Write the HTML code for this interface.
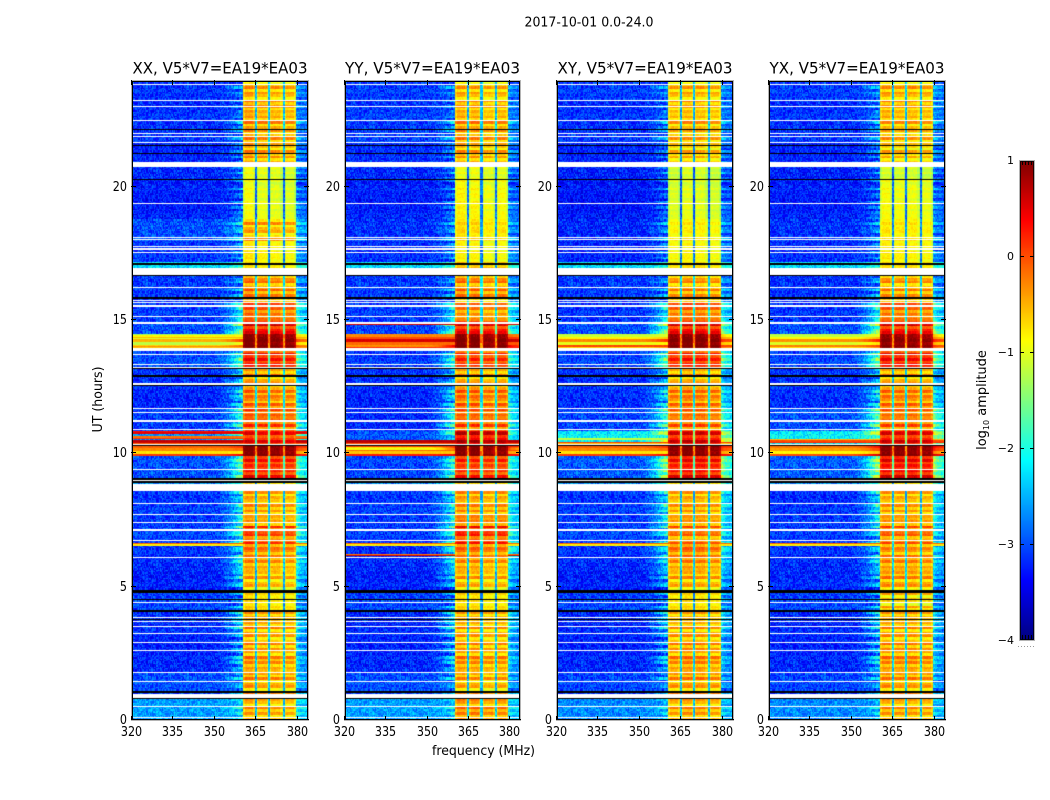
<!DOCTYPE html>
<html lang="en">
<head>
<meta charset="utf-8">
<title>2017-10-01 0.0-24.0</title>
<style>
html,body{margin:0;padding:0;background:#fff}
#figure{position:relative;width:1050px;height:800px;overflow:hidden;background:#fff;font-family:"DejaVu Sans","Liberation Sans",sans-serif}
canvas{position:absolute;display:block}
svg{position:absolute;left:0;top:0}
text{fill:#000;font-family:"DejaVu Sans","Liberation Sans",sans-serif}
</style>
</head>
<body>
<div id="figure">
<svg id="overlay" width="1050" height="800" viewBox="0 0 1050 800">
  <text x="589" y="26.5" font-size="13" text-anchor="middle" textLength="129" lengthAdjust="spacingAndGlyphs">2017-10-01 0.0-24.0</text>
  <text x="483.5" y="755" font-size="13" text-anchor="middle" textLength="103" lengthAdjust="spacingAndGlyphs">frequency (MHz)</text>
  <text transform="translate(102,399.5) rotate(-90)" font-size="13" text-anchor="middle" textLength="66" lengthAdjust="spacingAndGlyphs">UT (hours)</text>
  <text transform="translate(986,400) rotate(-90)" font-size="13" text-anchor="middle">log<tspan font-size="8" dy="3">10</tspan><tspan dy="-3"> amplitude</tspan></text>
</svg>
</div>
<script>
/* ---- axis data ---- */
const panelTitles = ["XX, V5*V7=EA19*EA03","YY, V5*V7=EA19*EA03","XY, V5*V7=EA19*EA03","YX, V5*V7=EA19*EA03"];
const freqTicks = [320,335,350,365,380];
const hourTicks = [0,5,10,15,20];
const colorTicks = [1,0,-1,-2,-3,-4];

/* ---- time segments (UT hours), shared by all four polarisations ---- */
const segmentEdges = [0,0.8,1.8,3.3,4.1,4.8,5.6,6.2,6.6,7.3,7.7,8.6,9.05,9.9,10.35,10.85,11.7,12.6,13.2,13.9,14.5,15.0,15.9,16.7,17.2,18.0,18.8,20.3,20.8,21.7,22.5,23.2,24];

/* log10 amplitude inside the 360-380 MHz band, per segment */
const xxBand = [-0.6,-0.55,-0.5,-0.55,-0.75,-0.65,-0.5,-0.3,-0.1,-0.5,-0.6,-0.8,0.1,0.95,0.25,-0.15,-0.35,-0.5,0.15,0.95,0.25,-0.25,-0.35,-0.8,-0.85,-0.6,-1.0,-1.0,-0.55,-0.5,-0.55,-0.55];
const yyBand = [-0.45,-0.6,-0.5,-0.6,-0.75,-0.65,-0.5,-0.25,0.05,-0.35,-0.55,-0.8,0.0,0.95,0.5,-0.2,-0.3,-0.55,0.0,0.95,0.2,-0.45,-0.35,-0.65,-0.9,-0.75,-0.9,-1.0,-0.6,-0.5,-0.6,-0.6];
const xyBand = [-0.55,-0.5,-0.45,-0.6,-0.75,-0.6,-0.45,-0.25,-0.3,-0.45,-0.6,-0.8,0.2,0.95,0.4,-0.25,-0.35,-0.55,0.1,0.95,0.25,-0.3,-0.45,-0.75,-0.9,-0.85,-1.05,-1.1,-0.7,-0.6,-0.65,-0.6];
const yxBand = [-0.55,-0.5,-0.45,-0.55,-0.7,-0.5,-0.45,-0.4,-0.25,-0.45,-0.6,-0.8,0.25,0.95,0.35,-0.25,-0.35,-0.55,0.2,0.9,0.2,-0.3,-0.45,-0.75,-0.85,-0.8,-0.95,-1.1,-0.7,-0.6,-0.6,-0.55];

/* log10 amplitude of the quiet 320-350 MHz floor, per segment */
const xxFloor = [-2.6,-3.0,-3.2,-3.15,-3.05,-3.25,-3.2,-3.1,-3.05,-3.1,-3.1,-2.7,-3.0,-0.35,-2.7,-3.1,-3.2,-3.15,-3.0,-0.9,-3.0,-3.1,-3.1,-2.3,-3.1,-3.0,-3.25,-3.2,-3.2,-3.15,-3.15,-3.15];
const yyFloor = [-2.6,-3.0,-3.2,-3.2,-3.05,-3.25,-3.2,-3.15,-3.1,-3.1,-3.1,-2.7,-3.05,-0.2,-3.0,-3.2,-3.2,-3.15,-3.1,0.15,-3.05,-3.1,-3.1,-2.3,-3.15,-3.15,-3.25,-3.2,-3.15,-3.1,-3.1,-3.1];
const xyFloor = [-2.7,-3.05,-3.2,-3.2,-3.05,-3.25,-3.2,-3.1,-3.05,-3.1,-3.1,-2.7,-2.95,-0.35,-2.2,-3.05,-3.15,-3.15,-3.05,-0.7,-3.0,-3.15,-3.1,-2.3,-3.2,-3.2,-3.3,-3.25,-3.2,-3.15,-3.15,-3.1];
const yxFloor = [-2.7,-3.05,-3.2,-3.2,-3.05,-3.2,-3.2,-3.1,-3.1,-3.1,-3.15,-2.7,-2.95,-0.45,-2.2,-3.0,-3.15,-3.15,-3.05,-0.75,-3.0,-3.15,-3.15,-2.3,-3.15,-3.15,-3.25,-3.25,-3.2,-3.15,-3.15,-3.1];

/* log10 amplitude reached by the shoulder just below 360 MHz, per segment */
const xxShoulder = [-2.4,-2.6,-2.5,-2.3,-2.7,-2.4,-2.2,-2.2,-1.9,-2.1,-2.3,-2.2,-1.8,-0.2,-1.6,-2.0,-2.3,-2.4,-1.8,-0.5,-1.7,-2.2,-2.6,-2.0,-2.8,-2.5,-2.9,-2.9,-2.9,-2.8,-2.9,-2.8];
const yyShoulder = [-2.5,-2.7,-2.5,-2.3,-2.7,-2.5,-2.3,-1.9,-1.9,-2.1,-2.3,-2.2,-2.0,-0.2,-1.9,-2.0,-2.3,-2.5,-2.0,0.1,-1.8,-2.3,-2.6,-2.0,-2.8,-2.7,-2.9,-2.9,-2.9,-2.7,-2.9,-2.8];
const xyShoulder = [-2.6,-2.8,-2.6,-2.4,-2.7,-2.6,-2.4,-2.1,-2.2,-2.2,-2.3,-2.2,-1.5,-0.2,-1.4,-1.9,-2.3,-2.5,-1.7,-0.4,-1.6,-2.3,-2.7,-2.1,-2.9,-2.8,-3.0,-3.0,-3.0,-2.8,-2.9,-2.8];
const yxShoulder = [-2.6,-2.7,-2.5,-2.4,-2.7,-2.6,-2.4,-2.3,-2.3,-2.2,-2.3,-2.2,-1.4,0.0,-1.3,-1.7,-2.3,-2.5,-1.6,-0.3,-1.5,-2.2,-2.6,-2.1,-2.9,-2.8,-2.9,-3.0,-2.9,-2.8,-2.8,-2.7];

/* brightness offset of the four sub-bands between the notches */
const xxSubBands = [0.1,0,-0.02,-0.05];
const yySubBands = [0.08,0.05,-0.05,0];
const xySubBands = [0,0.05,0.02,-0.03];
const yxSubBands = [0.05,0,0,-0.03];

/* thin interference rows: [hour, width in hours, floor value] */
const xxLines = [[6.59,0.04,-0.5],[10.62,0.05,0.25],[10.42,0.06,0.25],[10.8,0.04,0.2],[14.4,0.05,-0.4],[14.0,0.06,-0.6]];
const yyLines = [[6.59,0.04,-0.5],[6.2,0.05,0.2],[10.42,0.06,0.3],[10.2,0.05,-1.0],[14.9,0.03,0.1],[14.05,0.05,-0.6]];
const xyLines = [[6.59,0.04,-0.5],[10.42,0.05,-0.3],[10.55,0.05,-1.0],[14.05,0.05,-0.2]];
const yxLines = [[6.59,0.04,-0.5],[10.5,0.05,-0.4],[10.42,0.04,-0.2],[14.05,0.05,-0.5]];

/* flagged rows, common to all panels: [hour, width in hours] */
const blankRows = [[23.87,.04],[23.26,.04],[23.05,.04],[22.52,.04],[22.03,.04],[21.93,.04],[21.68,.04],[20.865,.21],[19.4,.04],[18.13,.04],[18.05,.04],[17.77,.04],[17.69,.04],[17.56,.04],[16.835,.25],[16.25,.04],[15.77,.04],[15.67,.04],[15.55,.04],[15.17,.04],[14.91,.04],[13.925,.11],[13.73,.04],[13.34,.04],[13.24,.04],[12.62,.04],[11.7,.04],[11.55,.04],[11.23,.04],[10.92,.04],[10.35,.04],[9.41,.04],[9.01,.04],[8.725,.25],[8.12,.04],[7.71,.04],[7.41,.04],[7.16,.04],[7.11,.04],[6.75,.04],[6.11,.04],[4.43,.04],[3.86,.04],[3.69,.04],[3.5,.04],[3.26,.04],[2.92,.04],[2.62,.04],[1.79,.04],[1.45,.04],[0.9,.18],[0.5,.04],[0.1,.04]];
const darkRows = [[22.17,.04],[21.58,.04],[21.27,.04],[20.3,.04],[17.14,.08],[16.69,.04],[15.86,.07],[13.19,.04],[12.92,.04],[12.57,.04],[10.3,.04],[9.05,.08],[8.94,.08],[4.82,.1],[4.51,.04],[4.1,.1],[3.76,.04],[1.05,.08],[0.79,.04]];

/* spectral shape */
const notchFreqs = [365.2,370,375.2];
const subBandEdges = [360.4,365,370,375,379.8];
const rampFreqs = [350,352,354,356,358,360.4];
const rampWeights = [0,0.06,0.18,0.4,0.7,1];
const outerFreqs = [379.8,381,382.5,384];
const outerWeights = [1,0.75,0.6,0.5];

/* cell texture: row striping and pixel grain, both hand-set small tables */
const rowRipple = [0.3,-0.5,0.7,-0.2,0.9,-0.8,0.1,0.5,-0.6,0.8,-0.3,-0.9,0.6,0.2,-0.7,1,-0.4,0.4,-0.1];
const grain = [0.2,-0.7,0.5,-0.1,0.9,-0.4,0.1,-0.9,0.6,-0.3,0.3,-0.6,1,-0.2,0.4,-0.8,0,0.7,-0.5,0.2,-1,0.8,-0.3,0.5,-0.6,0.1,-0.2,0.6,-0.8,0.3,-0.4,0.9,-0.1,-0.7,0.4,-0.5,0.7];

/* ---- layout ---- */
const panelLefts = [131,344,556,768];
const panelRights = [308,520,733,945];
const plotTop = 80, plotBottom = 720;
const F0 = 320, F1 = 384, H0 = 0, H1 = 24;
const NROWS = 480, NCHANS = 160;
const V0 = -4, V1 = 1;
const panelBand = [xxBand,yyBand,xyBand,yxBand];
const panelFloor = [xxFloor,yyFloor,xyFloor,yxFloor];
const panelShoulder = [xxShoulder,yyShoulder,xyShoulder,yxShoulder];
const panelSub = [xxSubBands,yySubBands,xySubBands,yxSubBands];
const panelLines = [xxLines,yyLines,xyLines,yxLines];
const panelKeys = ['xx','yy','xy','yx'];

function xScale(p,f){return panelLefts[p]+(f-F0)/(F1-F0)*(panelRights[p]-panelLefts[p]);}
function yScale(h){return plotBottom-(h-H0)/(H1-H0)*(plotBottom-1-plotTop);}
function yTick(h){return plotBottom-(h-H0)/(H1-H0)*(plotBottom-plotTop);}
function cbScale(v){return 160+(V1-v)/(V1-V0)*480;}

function jet(v){
  const x=Math.max(0,Math.min(1,(v-V0)/(V1-V0)));
  const c=(t)=>Math.round(255*Math.max(0,Math.min(1,1.5-Math.abs(4*t))));
  return 'rgb('+c(x-0.75)+','+c(x-0.5)+','+c(x-0.25)+')';
}
function segmentIndex(h){
  for(let i=0;i<segmentEdges.length-1;i++){ if(h<segmentEdges[i+1]) return i; }
  return segmentEdges.length-2;
}
function lookup(xs,ys,x){
  if(x<=xs[0]) return ys[0];
  for(let i=1;i<xs.length;i++){
    if(x<=xs[i]) return ys[i-1]+(ys[i]-ys[i-1])*(x-xs[i-1])/(xs[i]-xs[i-1]);
  }
  return ys[ys.length-1];
}
function cellValue(p,r,c,h,f){
  const s=segmentIndex(h);
  const band=panelBand[p][s], shoulder=panelShoulder[p][s];
  let floor=panelFloor[p][s];
  panelLines[p].forEach(function(l){ if(Math.abs(h-l[0])<=l[1]) floor=l[2]; });
  const g=grain[(r*37+c*c*11+r*c*5+r*r*3)%grain.length];
  const ripple=rowRipple[Math.floor(r/2)%rowRipple.length];
  if(floor>-2) floor+=ripple*0.5;
  if(f<subBandEdges[0]){
    const w=lookup(rampFreqs,rampWeights,f);
    const top=Math.max(shoulder+ripple*0.7,floor);
    return floor+(top-floor)*w+g*(floor>-2?0.06:0.38);
  }
  if(f>=subBandEdges[4]){
    const w=lookup(outerFreqs,outerWeights,f);
    const top=Math.max(shoulder+0.2+ripple*0.5,floor);
    return floor+(top-floor)*w+g*(floor>-2?0.06:0.3);
  }
  for(let n=0;n<notchFreqs.length;n++){
    if(Math.abs(f-notchFreqs[n])<0.25) return (band>0.7?band-1.2:band-1.9)+g*0.3;
  }
  let sb=0, edgeDist=99;
  for(let i=0;i<5;i++){
    if(i<4 && f>=subBandEdges[i]) sb=i;
    edgeDist=Math.min(edgeDist,Math.abs(f-subBandEdges[i]));
  }
  const amp=band>0.7?0.08:(band>-0.75?0.38:0.1);
  const taper=edgeDist<0.9?-0.18:0;
  return band+panelSub[p][sb]+taper+ripple*amp+g*0.12;
}

/* ---- drawing ---- */
const figure=document.getElementById('figure');
const overlay=document.getElementById('overlay');
const NS='http://www.w3.org/2000/svg';

function svgLine(x1,y1,x2,y2,color){
  const el=document.createElementNS(NS,'line');
  el.setAttribute('x1',x1);el.setAttribute('y1',y1);
  el.setAttribute('x2',x2);el.setAttribute('y2',y2);
  el.setAttribute('stroke',color||'#000');
  el.setAttribute('stroke-width','1');
  return el;
}
function svgText(x,y,str,size,anchor){
  const el=document.createElementNS(NS,'text');
  el.setAttribute('x',x);el.setAttribute('y',y);
  el.setAttribute('font-size',size);
  el.setAttribute('text-anchor',anchor);
  el.textContent=str;
  return el;
}
function svgFrame(x,y,w,h,color){
  const el=document.createElementNS(NS,'rect');
  el.setAttribute('x',x);el.setAttribute('y',y);
  el.setAttribute('width',w);el.setAttribute('height',h);
  el.setAttribute('fill','none');
  el.setAttribute('stroke',color);
  el.setAttribute('stroke-width','1');
  return el;
}
function tickLabelLength(str){ return str.length*7.1; }

function drawPanel(p){
  const left=panelLefts[p], right=panelRights[p];
  const cv=document.createElement('canvas');
  
  
  cv.width=right-left; cv.height=plotBottom-plotTop;
  cv.style.left=left+'px'; cv.style.top=plotTop+'px';
  figure.insertBefore(cv,overlay);
  const ctx=cv.getContext('2d');
  const dh=(H1-H0)/NROWS, df=(F1-F0)/NCHANS;
  for(let r=0;r<NROWS;r++){
    const h=H0+r*dh;
    const y0=Math.round(yScale(h+dh))-plotTop, y1=Math.round(yScale(h))-plotTop;
    for(let c=0;c<NCHANS;c++){
      const f=F0+c*df;
      const x0=Math.round(xScale(p,f))-left, x1=Math.round(xScale(p,f+df))-left;
      ctx.fillStyle=jet(cellValue(p,r,c,h+dh/2,f+df/2));
      ctx.fillRect(x0,y0,x1-x0,y1-y0);
    }
  }
  function flag(list,color){
    list.forEach(function(fr){
      const y0=Math.round(yScale(fr[0]+fr[1]/2))-plotTop;
      const y1=Math.round(yScale(fr[0]-fr[1]/2))-plotTop;
      ctx.fillStyle=color;
      ctx.fillRect(0,y0,cv.width,Math.max(1,y1-y0));
    });
  }
  flag(blankRows,'#fff');
  flag(darkRows,'#000');

  const w=right-left;
  const gray=svgFrame(left+.5,plotTop+.5,w,plotBottom-plotTop,'#b4b4b4');
  
  
  overlay.appendChild(gray);
  const black=svgFrame(left+1.5,plotTop+1.5,w-2,plotBottom-plotTop-2,'#000');
  
  
  overlay.appendChild(black);

  const title=svgText((left+right)/2+.5,73.5,panelTitles[p],16,'middle');
  title.setAttribute('textLength','175');
  title.setAttribute('lengthAdjust','spacingAndGlyphs');
  
  
  overlay.appendChild(title);

  freqTicks.forEach(function(t){
    const x=Math.round(xScale(p,t))+.5;
    const b=svgLine(x,plotBottom-4,x,plotBottom);
    
    
    overlay.appendChild(b);
    const u=svgLine(x,plotTop,x,plotTop+5);
    
    
    overlay.appendChild(u);
    const lab=svgText(x,plotBottom+16,String(t),13,'middle');
    lab.setAttribute('textLength',tickLabelLength(String(t)));
    lab.setAttribute('lengthAdjust','spacingAndGlyphs');
    
    
    overlay.appendChild(lab);
  });
  hourTicks.forEach(function(t){
    const y=Math.round(yTick(t))-.5;
    const a=svgLine(left,y,left+5,y);
    
    
    overlay.appendChild(a);
    const z=svgLine(right-4,y,right+1,y);
    
    
    overlay.appendChild(z);
    const lab=svgText(left-4,Math.min(y+4.5,725),String(t),13,'end');
    lab.setAttribute('textLength',tickLabelLength(String(t)));
    lab.setAttribute('lengthAdjust','spacingAndGlyphs');
    
    
    overlay.appendChild(lab);
  });
}

function drawColorbar(){
  const cv=document.createElement('canvas');
  
  
  cv.width=16; cv.height=481;
  cv.style.left='1019px'; cv.style.top='160px';
  figure.insertBefore(cv,overlay);
  const ctx=cv.getContext('2d');
  for(let i=0;i<481;i++){
    ctx.fillStyle=jet(V1-(i/480)*(V1-V0));
    ctx.fillRect(0,i,16,1);
  }
  const outer=svgFrame(1019.5,160.5,15,480,'#b4b4b4');
  
  
  overlay.appendChild(outer);
  const inner=svgFrame(1020.5,161.5,13,478,'#000');
  inner.setAttribute('stroke-opacity','0.8');
  
  
  overlay.appendChild(inner);
  colorTicks.forEach(function(v){
    const y=Math.round(cbScale(v))+.5;
    if(v>V0 && v<V1){
      const a=svgLine(1020,y,1024,y);
      
      
      overlay.appendChild(a);
      const b=svgLine(1030,y,1034,y);
      
      
      overlay.appendChild(b);
    }
    const lab=svgText(1014,y+3.5,String(v).replace('-','\u2212'),11,'end');
    
    
    overlay.appendChild(lab);
  });
  [1022,1025,1028,1031].forEach(function(x){
    const top=svgLine(x+.5,161,x+.5,165);
    
    
    overlay.appendChild(top);
    const bot=svgLine(x+.5,635,x+.5,640);
    
    
    overlay.appendChild(bot);
  });
  const dots=svgLine(1018,646.5,1035,646.5,'#999');
  dots.setAttribute('stroke-dasharray','1 2');
  
  
  overlay.appendChild(dots);
}

for(let p=0;p<4;p++){ drawPanel(p); }
drawColorbar();
</script>
</body>
</html>
